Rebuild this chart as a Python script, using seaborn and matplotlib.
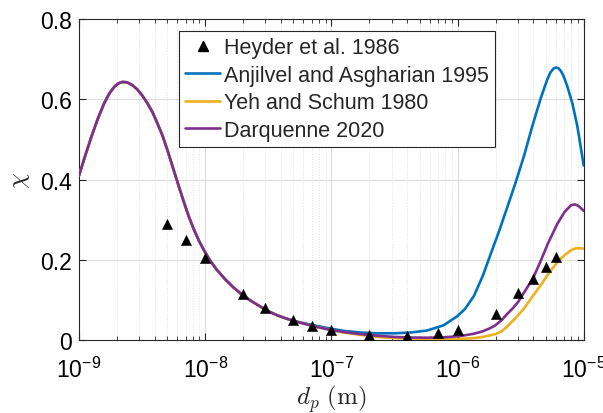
import numpy as np
import pandas as pd
import matplotlib
matplotlib.use("Agg")
import matplotlib.pyplot as plt
import matplotlib.ticker as mticker
from matplotlib.lines import Line2D
import seaborn as sns

# ---------------- data ----------------
# experimental points (Heyder et al. 1986)
heyder_dp = [5e-9, 7e-9, 1e-8, 2e-8, 3e-8, 5e-8, 7e-8, 1e-7, 2e-7, 4e-7,
             7e-7, 1e-6, 2e-6, 3e-6, 4e-6, 5e-6, 6e-6]
heyder_chi = [0.29, 0.25, 0.205, 0.115, 0.08, 0.05, 0.035, 0.025, 0.013, 0.01,
              0.018, 0.026, 0.065, 0.118, 0.153, 0.183, 0.207]

# shared (ultrafine) branch of the three models: log10(dp) and chi
common_log = [-9.00, -8.95, -8.90, -8.85, -8.80, -8.76, -8.72, -8.69, -8.656, -8.62,
              -8.577, -8.54, -8.498, -8.46, -8.418, -8.38, -8.339, -8.30, -8.26, -8.21,
              -8.17, -8.13, -8.09, -8.05, -8.01, -7.96, -7.91, -7.84, -7.775, -7.71,
              -7.643, -7.57, -7.50, -7.43, -7.36, -7.30]
common_chi = [0.410, 0.460, 0.508, 0.552, 0.590, 0.614, 0.631, 0.639, 0.643, 0.642,
              0.635, 0.625, 0.609, 0.591, 0.568, 0.541, 0.510, 0.474, 0.434, 0.384,
              0.345, 0.308, 0.276, 0.248, 0.224, 0.198, 0.176, 0.151, 0.131, 0.114,
              0.099, 0.085, 0.072, 0.062, 0.054, 0.048]

anj_log = [-7.17, -7.03, -6.90, -6.77, -6.64, -6.50, -6.37, -6.24, -6.11, -6.00,
           -5.94, -5.87, -5.80, -5.74, -5.67, -5.61, -5.54, -5.47, -5.41, -5.34,
           -5.29, -5.265, -5.24, -5.22, -5.20, -5.18, -5.16, -5.13, -5.09, -5.05,
           -5.00]
anj_chi = [0.039, 0.030, 0.023, 0.019, 0.017, 0.017, 0.019, 0.024, 0.037, 0.060,
           0.078, 0.110, 0.160, 0.212, 0.272, 0.327, 0.392, 0.462, 0.530, 0.603,
           0.648, 0.666, 0.676, 0.679, 0.677, 0.670, 0.658, 0.632, 0.590, 0.532,
           0.435]

yeh_log = [-7.17, -7.03, -6.90, -6.77, -6.64, -6.50, -6.37, -6.24, -6.11, -5.98,
           -5.87, -5.80, -5.74, -5.70, -5.65, -5.61, -5.54, -5.47, -5.41, -5.34,
           -5.28, -5.21, -5.15, -5.10, -5.07, -5.05, -5.00]
yeh_chi = [0.037, 0.027, 0.019, 0.013, 0.008, 0.005, 0.004, 0.003, 0.003, 0.003,
           0.005, 0.008, 0.012, 0.015, 0.022, 0.033, 0.055, 0.080, 0.107, 0.137,
           0.165, 0.194, 0.212, 0.224, 0.228, 0.229, 0.228]

darq_log = [-7.17, -7.03, -6.90, -6.77, -6.64, -6.50, -6.37, -6.24, -6.11, -5.98,
            -5.87, -5.80, -5.74, -5.70, -5.65, -5.61, -5.56, -5.52, -5.47, -5.40,
            -5.34, -5.28, -5.21, -5.15, -5.10, -5.07, -5.04, -5.00]
darq_chi = [0.037, 0.027, 0.020, 0.015, 0.011, 0.008, 0.0065, 0.006, 0.007, 0.010,
            0.016, 0.022, 0.030, 0.037, 0.050, 0.064, 0.080, 0.095, 0.120, 0.155,
            0.198, 0.243, 0.289, 0.320, 0.336, 0.338, 0.334, 0.322]

names = ["Heyder et al. 1986", "Anjilvel and Asgharian 1995",
         "Yeh and Schum 1980", "Darquenne 2020"]
colors = {"Anjilvel and Asgharian 1995": "#0072BD",
          "Yeh and Schum 1980": "#EDB120",
          "Darquenne 2020": "#7E2F8E"}

# ---------------- build frames ----------------
frames = []
for nm, lg, ch in [(names[1], anj_log, anj_chi),
                   (names[2], yeh_log, yeh_chi),
                   (names[3], darq_log, darq_chi)]:
    lx = np.array(common_log + lg)
    cy = np.array(common_chi + ch)
    frames.append(pd.DataFrame({"dp": 10.0 ** lx, "chi": cy, "model": nm}))
models = pd.concat(frames, ignore_index=True)
exp = pd.DataFrame({"dp": heyder_dp, "chi": heyder_chi})

# ---------------- style ----------------
sns.set_style("ticks")
plt.rcParams["font.family"] = ["Liberation Sans", "DejaVu Sans"]
plt.rcParams["mathtext.fontset"] = "cm"
plt.rcParams["lines.solid_joinstyle"] = "round"
plt.rcParams["lines.solid_capstyle"] = "round"

fig = plt.figure(figsize=(6.03, 4.14), dpi=100)
ax = fig.add_axes([0.131, 0.176, 0.837, 0.776])

sns.lineplot(data=models, x="dp", y="chi", hue="model", palette=colors,
             hue_order=names[1:], sort=False, estimator=None,
             linewidth=1.9, ax=ax, legend=False, zorder=3)
sns.scatterplot(data=exp, x="dp", y="chi", marker="^", color="black",
                s=55, edgecolor="black", linewidth=0.3, ax=ax, zorder=4,
                legend=False)

ax.set_xscale("log")
ax.set_xlim(1e-9, 1e-5)
ax.set_ylim(0, 0.8)
ax.set_yticks([0, 0.2, 0.4, 0.6, 0.8])
ax.yaxis.set_major_formatter(mticker.FuncFormatter(
    lambda v, p: "0" if abs(v) < 1e-9 else f"{v:.1f}"))
ax.xaxis.set_major_locator(mticker.LogLocator(base=10, numticks=10))
ax.xaxis.set_minor_locator(mticker.LogLocator(base=10, subs=np.arange(2, 10), numticks=20))
ax.xaxis.set_minor_formatter(mticker.NullFormatter())

ax.grid(True, which="major", color="#dcdcdc", linewidth=0.8, zorder=0)
ax.grid(True, which="minor", axis="x", color="#e2e2e2", linestyle=":",
        linewidth=0.7, zorder=0)
ax.set_axisbelow(True)

for sp in ax.spines.values():
    sp.set_visible(True)
    sp.set_color("#262626")
    sp.set_linewidth(0.8)
ax.tick_params(which="both", direction="in", top=True, right=True,
               colors="#262626", labelcolor="black")
ax.tick_params(which="major", length=5, labelsize=16.5)
ax.tick_params(axis="y", which="major", pad=5)
ax.tick_params(axis="x", which="major", pad=12)
ax.tick_params(which="minor", length=3)

ax.set_xlabel(r"$d_p\ (\mathrm{m})$", fontsize=18, labelpad=0)
ax.set_ylabel(r"$\chi$", fontsize=18, labelpad=6)

# legend
handles = [Line2D([], [], marker="^", color="black", linestyle="none", markersize=7)]
for nm in names[1:]:
    handles.append(Line2D([], [], color=colors[nm], linewidth=1.9))
leg = ax.legend(handles, names, loc="upper left", bbox_to_anchor=(0.198, 0.963),
                borderaxespad=0, frameon=True, fancybox=False, fontsize=15.5,
                handlelength=1.6, handletextpad=0.2, labelspacing=0.3,
                borderpad=0.3, edgecolor="#262626", framealpha=1)
leg.get_frame().set_linewidth(0.8)

fig.savefig("out.png", dpi=100)
